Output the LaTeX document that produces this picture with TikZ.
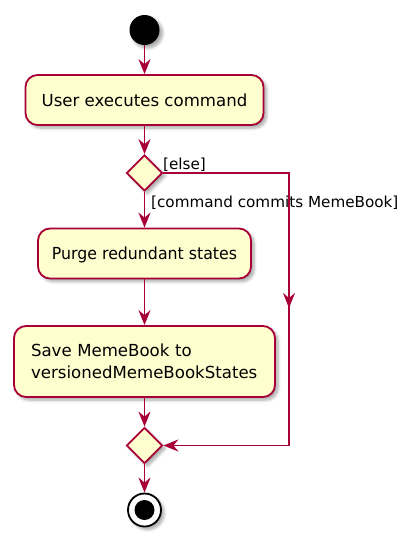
\documentclass[tikz,border=0pt]{standalone}
\usepackage{fontspec}
\usepackage{graphicx}
\setmainfont{DejaVu Sans}
\usetikzlibrary{arrows.meta,shapes.geometric,shadows.blur}
\definecolor{pumlred}{HTML}{A80036}
\definecolor{pumlfill}{HTML}{FEFECE}
\tikzset{
  shad/.style={blur shadow={shadow xshift=3pt, shadow yshift=-3pt, shadow blur steps=6, shadow blur radius=3pt, shadow opacity=35}},
  act/.style={draw=pumlred, fill=pumlfill, line width=1.8pt, rounded corners=12pt,
    font=\fontsize{16.6}{22.6}\selectfont, inner sep=0pt, shad},
  dec/.style={diamond, draw=pumlred, fill=pumlfill, line width=1.8pt, minimum width=36pt,
    minimum height=36pt, inner sep=0pt, shad},
  startc/.style={circle, fill=black, minimum size=30pt, inner sep=0pt, shad},
  endouter/.style={circle, draw=black, fill=white, line width=1.8pt, minimum size=33pt, inner sep=0pt, shad},
  endinner/.style={circle, fill=black, minimum size=20pt, inner sep=0pt},
  flowline/.style={draw=pumlred, line width=1.8pt},
  flow/.style={flowline, -{Stealth[length=15pt, width=12pt, inset=5pt]}},
  guard/.style={font=\fontsize{15.2}{18}\selectfont, inner sep=0pt, anchor=west},
}
\begin{document}
\begin{tikzpicture}[x=1pt,y=-1pt]
\useasboundingbox (0,0) rectangle (414,541);
\node[startc] (start) at (144.5,30) {};
\node[act, minimum width=238pt, minimum height=50pt] (a1) at (144.5,100) {User executes command};
\node[dec] (d1) at (144.5,173) {};
\node[act, minimum width=213pt, minimum height=50pt, text height=12.6pt, text depth=0pt] (a2) at (144.5,253.5) {\scalebox{0.95}[1]{Purge redundant states}};
\node[act, text width=227pt, inner xsep=17pt, minimum height=71pt, align=left] (a3) at (144.5,361.5) {Save MemeBook to\\versionedMemeBookStates};
\node[dec] (d2) at (144.5,445.5) {};
\node[endouter] (end) at (144.5,510) {};
\node[endinner] (endin) at (end.center) {};
\node[guard] (lelse) at (163,164.5) {[else]};
\node[guard] (lcmd) at (151,203) {[command commits MemeBook]};
\coordinate (r1) at (289,173);
\coordinate (rm) at (289,308);
\coordinate (r2) at (289,445.5);
\draw[flow] (start) -- (a1);
\draw[flow] (a1) -- (d1);
\draw[flow] (d1) -- (a2);
\draw[flow] (a2) -- (a3);
\draw[flow] (a3) -- (d2);
\draw[flow] (d2) -- (end);
\draw[flowline] (d1.east) -- (r1) -- (r2);
\draw[flow] (r1) -- (rm);
\draw[flow] (r2) -- (d2.east);
\end{tikzpicture}
\end{document}
